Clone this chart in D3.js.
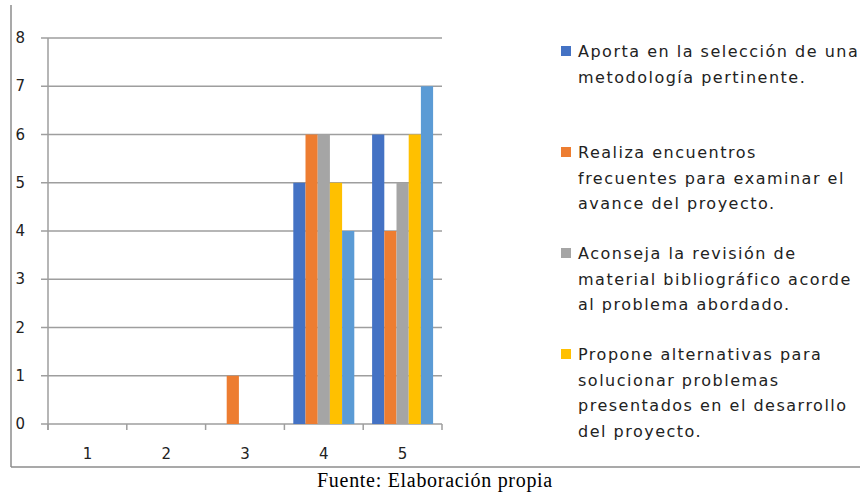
<!DOCTYPE html>
<html lang="es">
<head>
<meta charset="utf-8"/>
<title>Chart</title>
<script src="https://d3js.org/d3.v7.min.js"></script>
<style>
  body { margin: 0; background: #fff; }
  svg { display: block; }
</style>
</head>
<body>
<script>
// data
var categories = ["1", "2", "3", "4", "5"];
var seriesNames = ["s1", "s2", "s3", "s4", "s5"];
var seriesColors = ["#4472C4", "#ED7D31", "#A5A5A5", "#FFC000", "#5B9BD5"];
// one row per category, one value per series
var values = [
  [0, 0, 0, 0, 0],
  [0, 0, 0, 0, 0],
  [0, 1, 0, 0, 0],
  [5, 6, 6, 5, 4],
  [6, 4, 5, 6, 7]
];
var yTicks = [0, 1, 2, 3, 4, 5, 6, 7, 8];
var legendLabels = [
  ["Aporta en la selección de una", "metodología pertinente."],
  ["Realiza encuentros", "frecuentes para examinar el", "avance del proyecto."],
  ["Aconseja la revisión de", "material bibliográfico acorde", "al problema abordado."],
  ["Propone alternativas para", "solucionar problemas", "presentados en el desarrollo", "del proyecto."]
];
var caption = "Fuente: Elaboración propia";

var width = 860, height = 498;
var plotLeft = 48, plotRight = 442, plotTop = 38, plotBottom = 424;

var svg = d3.select("body").append("svg")
    .attr("width", width)
    .attr("height", height);

// outer frame (cropped at top and right)
svg.append("line").attr("x1", 11).attr("x2", 11).attr("y1", 5).attr("y2", 467)
   .attr("stroke", "#8c8c8c").attr("stroke-width", 1.5);
svg.append("line").attr("x1", 11).attr("x2", width).attr("y1", 467).attr("y2", 467)
   .attr("stroke", "#8c8c8c").attr("stroke-width", 1.5);

var y = d3.scaleLinear().domain([0, 8]).range([plotBottom, plotTop]);
var x0 = d3.scaleBand().domain(categories).range([plotLeft, plotRight]).padding(0);
var x1 = d3.scaleBand().domain(seriesNames).range([0, x0.bandwidth()])
    .paddingInner(0).paddingOuter(0.73);
var color = d3.scaleOrdinal().domain(seriesNames).range(seriesColors);

// gridlines
svg.append("g").selectAll("line")
   .data(yTicks)
   .enter().append("line")
   .attr("x1", plotLeft - 7)
   .attr("x2", plotRight)
   .attr("y1", function(d) { return y(d); })
   .attr("y2", function(d) { return y(d); })
   .attr("stroke", "#9e9e9e")
   .attr("stroke-width", 1.5);

// y tick labels
svg.append("g").selectAll("text")
   .data(yTicks)
   .enter().append("text")
   .attr("x", 25)
   .attr("y", function(d) { return y(d) + 5; })
   .attr("text-anchor", "end")
   .attr("font-family", "DejaVu Sans, sans-serif")
   .attr("font-size", "15px")
   .attr("fill", "#222")
   .text(function(d) { return d; });

// bars
svg.append("g").selectAll("g")
   .data(values)
   .enter().append("g")
   .attr("transform", function(d, i) { return "translate(" + x0(categories[i]) + ",0)"; })
   .selectAll("rect")
   .data(function(row) { return row.map(function(v, j) { return { s: seriesNames[j], v: v }; }); })
   .enter().append("rect")
   .attr("x", function(d) { return x1(d.s); })
   .attr("width", x1.bandwidth())
   .attr("y", function(d) { return y(d.v); })
   .attr("height", function(d) { return y(0) - y(d.v); })
   .attr("fill", function(d) { return color(d.s); });

// y axis line
svg.append("line").attr("x1", plotLeft).attr("x2", plotLeft).attr("y1", plotTop).attr("y2", plotBottom + 6)
   .attr("stroke", "#9e9e9e").attr("stroke-width", 1.5);

// x axis ticks
var xEdges = categories.map(function(c) { return x0(c); }).concat([x0(categories[categories.length - 1]) + x0.bandwidth()]);
svg.append("g").selectAll("line")
   .data(xEdges)
   .enter().append("line")
   .attr("x1", function(d) { return d; })
   .attr("x2", function(d) { return d; })
   .attr("y1", plotBottom)
   .attr("y2", plotBottom + 6)
   .attr("stroke", "#9e9e9e")
   .attr("stroke-width", 1.5);

svg.append("g").selectAll("text")
   .data(categories)
   .enter().append("text")
   .attr("x", function(d) { return x0(d) + x0.bandwidth() / 2; })
   .attr("y", 459)
   .attr("text-anchor", "middle")
   .attr("font-family", "DejaVu Sans, sans-serif")
   .attr("font-size", "15px")
   .attr("fill", "#222")
   .text(function(d) { return d; });

// legend
var legend = svg.append("g").selectAll("g")
   .data(legendLabels)
   .enter().append("g")
   .attr("transform", function(d, i) { return "translate(561," + (57 + i * 101) + ")"; });

legend.append("rect")
   .attr("x", 0).attr("y", -11)
   .attr("width", 10).attr("height", 10)
   .attr("fill", function(d, i) { return seriesColors[i]; });

legend.append("text")
   .attr("font-family", "DejaVu Sans, sans-serif")
   .attr("font-size", "16px")
   .attr("letter-spacing", "1.5px")
   .attr("fill", "#222")
   .selectAll("tspan")
   .data(function(d) { return d; })
   .enter().append("tspan")
   .attr("x", 17)
   .attr("y", function(d, i) { return i * 25.5; })
   .text(function(d) { return d; });

// caption
svg.append("text")
   .attr("x", 435)
   .attr("y", 487)
   .attr("text-anchor", "middle")
   .attr("font-family", "Liberation Serif, Times New Roman, serif")
   .attr("font-size", "20px")
   .attr("letter-spacing", "0.7px")
   .attr("fill", "#000")
   .text(caption);
</script>
</body>
</html>
